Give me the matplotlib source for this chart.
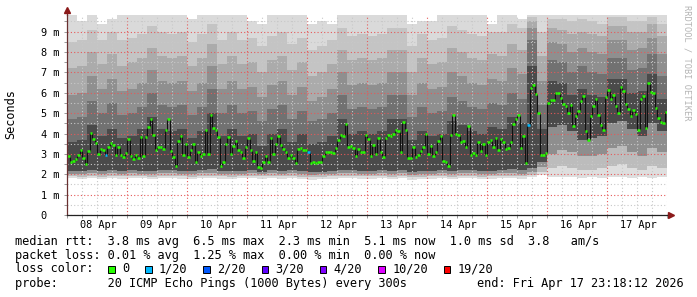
# -*- coding: utf-8 -*-
import numpy as np
import matplotlib
matplotlib.use('Agg')
import matplotlib.pyplot as plt
from matplotlib.patches import Rectangle

MONO = 'DejaVu Sans Mono'

# median rtt per hour (ms), 240 hourly steps
median_rtt = [
    2.9, 2.6, 2.65, 2.75, 2.95, 3.2, 2.8, 2.5, 3.15, 4.05, 3.75, 3.55, 3.0, 3.25, 3.2, 2.95,
    3.35, 3.55, 3.45, 2.95, 3.35, 2.95, 2.85, 3.05, 3.75, 2.9, 2.75, 2.95, 2.8, 3.85, 2.9, 3.85,
    4.3, 4.7, 3.95, 3.2, 3.35, 3.35, 3.25, 4.15,
    4.7, 3.15, 2.85, 2.4, 3.65, 3.9, 2.95, 3.5, 2.85, 3.2, 3.5, 2.6, 3.1, 2.9, 3.0, 4.15,
    3.0, 4.9, 4.25, 4.15, 3.85, 2.4, 2.6, 3.5, 3.85, 3.0, 3.4, 3.65, 3.2, 3.1, 2.8, 3.35,
    3.8, 3.2, 2.65, 3.1, 2.35, 2.3, 2.6, 2.9,
    2.6, 3.8, 3.0, 3.5, 3.9, 3.45, 3.25, 3.1, 2.8, 2.95, 2.8, 2.55, 3.25, 3.3, 3.2, 3.2,
    3.1, 2.55, 2.6, 2.55, 2.6, 2.6, 2.9, 3.1, 3.1, 3.1, 3.05, 3.3, 3.7, 3.95, 3.9, 4.45,
    3.35, 3.4, 3.3, 2.9, 3.25, 3.1, 3.1, 3.95,
    3.75, 2.9, 3.45, 3.0, 3.8, 3.1, 2.85, 3.8, 3.95, 3.9, 4.0, 4.15, 4.1, 3.1, 4.55, 4.15,
    2.8, 2.8, 3.35, 2.85, 2.95, 3.15, 3.35, 4.0, 3.0, 3.4, 2.9, 3.1, 3.65, 3.9, 2.65, 2.6,
    2.4, 3.95, 4.9, 4.0, 3.95, 3.6, 3.65, 3.35,
    4.35, 2.95, 3.05, 2.95, 3.6, 3.15, 3.5, 2.95, 3.6, 3.7, 3.35, 3.8, 3.2, 3.75, 3.6, 3.25,
    3.3, 3.6, 4.45, 4.7, 4.9, 3.3, 3.9, 2.55, 4.4, 6.25, 6.4, 5.95, 5.0, 2.95, 2.95, 3.05,
    5.5, 5.65, 5.65, 6.0, 6.0, 5.75, 5.45, 5.35,
    5.0, 5.4, 4.35, 4.85, 5.1, 5.6, 5.85, 4.1, 3.7, 4.85, 5.35, 5.7, 4.9, 4.4, 4.15, 5.8,
    6.15, 5.7, 5.9, 5.35, 5.0, 6.3, 6.1, 5.45, 5.2, 4.85, 5.15, 4.95, 4.15, 5.7, 5.85, 4.25,
    6.5, 6.05, 6.0, 5.25, 4.75, 4.55, 4.5, 5.05,
]
# hours with 1/20 packets lost
loss_1of20_steps = [15, 96, 184]

# smoke levels per 4-hour block (ms), from bottom to top
smoke_min = [
    1.80, 1.75, 1.80, 1.75, 1.80, 1.78, 1.80, 1.80, 1.75, 1.80,
    1.80, 1.78, 1.75, 1.80, 1.80, 1.78, 1.75, 1.80, 1.80, 1.78,
    1.80, 1.78, 1.80, 1.75, 1.72, 1.75, 1.78, 1.80, 1.80, 1.78,
    1.78, 1.80, 1.75, 1.80, 1.72, 1.75, 1.78, 1.80, 1.75, 1.80,
    1.80, 1.75, 1.78, 1.80, 1.80, 1.78, 1.85, 1.95, 1.85, 1.85,
    1.85, 1.80, 1.85, 1.80, 1.85, 1.85, 1.80, 1.85, 1.80, 1.85,
]
smoke_la = [
    1.90, 1.88, 1.92, 1.88, 1.90, 1.90, 1.92, 1.90, 1.88, 1.92,
    1.90, 1.90, 1.88, 1.92, 1.92, 1.90, 1.88, 1.90, 1.92, 1.90,
    1.92, 1.90, 1.92, 1.88, 1.85, 1.88, 1.90, 1.92, 1.92, 1.90,
    1.90, 1.92, 1.88, 1.92, 1.85, 1.88, 1.90, 1.92, 1.88, 1.92,
    1.92, 1.88, 1.90, 1.92, 1.92, 1.90, 1.95, 2.10, 2.30, 2.40,
    2.30, 2.20, 2.20, 2.30, 2.40, 2.50, 2.30, 2.20, 2.40, 2.30,
]
smoke_lb = [
    2.02, 2.00, 2.05, 2.00, 2.04, 2.02, 2.04, 2.02, 2.00, 2.05,
    2.04, 2.02, 2.00, 2.05, 2.06, 2.02, 2.00, 2.02, 2.04, 2.00,
    2.04, 2.02, 2.04, 2.00, 1.98, 2.00, 2.02, 2.05, 2.04, 2.02,
    2.02, 2.04, 2.00, 2.05, 1.98, 2.00, 2.02, 2.04, 2.00, 2.05,
    2.05, 2.00, 2.02, 2.04, 2.05, 2.02, 2.10, 2.35, 3.00, 3.20,
    3.10, 2.90, 2.90, 3.00, 3.30, 3.40, 3.10, 2.90, 3.30, 3.10,
]
smoke_dlo = [
    2.18, 2.15, 2.22, 2.15, 2.20, 2.18, 2.20, 2.18, 2.15, 2.22,
    2.20, 2.18, 2.15, 2.22, 2.25, 2.18, 2.15, 2.18, 2.20, 2.12,
    2.20, 2.18, 2.20, 2.15, 2.10, 2.12, 2.18, 2.22, 2.20, 2.18,
    2.18, 2.20, 2.18, 2.22, 2.10, 2.15, 2.18, 2.20, 2.15, 2.22,
    2.22, 2.15, 2.18, 2.20, 2.25, 2.20, 2.30, 2.60, 4.30, 4.40,
    4.10, 3.70, 3.80, 3.90, 4.50, 4.60, 4.20, 3.90, 4.50, 4.10,
]
smoke_dhi = [
    3.6, 3.7, 4.4, 3.9, 4.2, 3.8, 3.9, 4.2, 4.8, 4.2,
    4.1, 4.2, 3.8, 4.1, 5.0, 3.9, 4.2, 3.9, 4.0, 3.4,
    4.0, 4.2, 3.6, 4.0, 3.5, 3.6, 3.9, 4.7, 4.0, 4.1,
    4.0, 4.1, 4.7, 4.7, 3.7, 4.1, 3.9, 4.0, 4.6, 4.4,
    4.1, 4.0, 4.3, 4.2, 4.8, 4.5, 7.3, 4.2, 6.6, 6.5,
    5.9, 6.2, 5.9, 5.8, 6.7, 6.7, 6.0, 6.1, 6.9, 5.7,
]
smoke_ua = [
    4.7, 4.8, 5.6, 5.0, 5.5, 4.9, 5.0, 5.3, 6.0, 5.4,
    5.3, 5.4, 4.9, 5.3, 6.2, 5.0, 5.4, 5.0, 5.1, 4.6,
    5.2, 5.4, 4.7, 5.1, 4.6, 4.7, 5.0, 5.9, 5.2, 5.3,
    5.2, 5.3, 5.9, 5.9, 4.8, 5.3, 5.0, 5.1, 5.8, 5.6,
    5.3, 5.2, 5.5, 5.4, 6.0, 5.7, 8.6, 5.4, 7.6, 7.5,
    7.0, 7.3, 7.0, 6.9, 7.7, 7.7, 7.1, 7.2, 7.9, 6.8,
]
smoke_ub = [
    5.9, 6.0, 6.8, 6.2, 6.7, 6.1, 6.2, 6.5, 7.1, 6.6,
    6.5, 6.6, 6.1, 6.5, 7.3, 6.2, 6.6, 6.2, 6.3, 5.8,
    6.4, 6.6, 5.9, 6.3, 5.6, 5.8, 6.2, 7.0, 6.4, 6.5,
    6.4, 6.5, 7.0, 7.0, 5.9, 6.5, 6.2, 6.3, 7.0, 6.8,
    6.5, 6.4, 6.7, 6.6, 7.2, 6.9, 9.2, 6.6, 8.5, 8.4,
    8.0, 8.2, 8.0, 7.9, 8.6, 8.6, 8.1, 8.2, 8.7, 7.9,
]
smoke_uc = [
    7.2, 7.3, 8.0, 7.4, 7.9, 7.3, 7.5, 7.7, 8.2, 7.8,
    7.7, 7.8, 7.3, 7.7, 8.4, 7.4, 7.8, 7.4, 7.5, 7.0,
    7.6, 7.8, 7.1, 7.5, 6.8, 7.0, 7.4, 8.1, 7.6, 7.7,
    7.6, 7.7, 8.1, 8.1, 7.0, 7.7, 7.4, 7.5, 8.2, 8.0,
    7.7, 7.6, 7.9, 7.8, 8.4, 8.1, 9.5, 7.8, 9.2, 9.1,
    8.9, 9.0, 8.9, 8.8, 9.3, 9.3, 9.0, 9.0, 9.4, 8.8,
]
smoke_ud = [
    8.5, 8.6, 9.1, 8.6, 9.0, 8.6, 8.7, 8.9, 9.3, 9.0,
    8.9, 9.0, 8.5, 8.9, 9.4, 8.6, 9.0, 8.6, 8.7, 8.3,
    8.8, 9.0, 8.4, 8.7, 8.1, 8.3, 8.6, 9.2, 8.8, 8.9,
    8.8, 8.9, 9.2, 9.2, 8.3, 8.9, 8.6, 8.7, 9.3, 9.1,
    8.9, 8.8, 9.0, 9.0, 9.4, 9.2, 9.7, 9.0, 9.6, 9.6,
    9.5, 9.6, 9.5, 9.4, 9.7, 9.7, 9.5, 9.5, 9.7, 9.4,
]
smoke_max = [
    9.9, 9.5, 9.9, 9.4, 9.6, 9.9, 9.9, 9.9, 9.9, 9.9,
    9.9, 9.9, 9.6, 9.9, 9.9, 9.9, 9.9, 9.9, 9.5, 9.4,
    9.9, 9.9, 9.9, 9.9, 9.4, 9.5, 9.4, 9.9, 9.9, 9.9,
    9.9, 9.9, 9.9, 9.9, 9.4, 9.5, 9.5, 9.9, 9.9, 9.9,
    9.9, 9.9, 9.4, 9.9, 9.9, 9.6, 9.9, 9.9, 9.9, 9.9,
    9.9, 9.9, 9.9, 9.9, 9.9, 9.9, 9.9, 9.9, 9.9, 9.9,
]

day_labels = ['08 Apr', '09 Apr', '10 Apr', '11 Apr', '12 Apr',
              '13 Apr', '14 Apr', '15 Apr', '16 Apr', '17 Apr']
y_labels = ['0  ', '1 m', '2 m', '3 m', '4 m', '5 m', '6 m', '7 m', '8 m', '9 m']

loss_labels = ['0', '1/20', '2/20', '3/20', '4/20', '10/20', '19/20']
loss_colors = ['#26ff00', '#00b8ff', '#0059ff', '#5e00ff', '#7e00ff', '#dd00ff', '#ff0000']

legend_lines = [
    'median rtt:  3.8 ms avg  6.5 ms max  2.3 ms min  5.1 ms now  1.0 ms sd  3.8   am/s',
    'packet loss: 0.01 % avg  1.25 % max  0.00 % min  0.00 % now',
    'loss color:',
    'probe:       20 ICMP Echo Pings (1000 Bytes) every 300s',
]
end_text = 'end: Fri Apr 17 23:18:12 2026'

W, H = 697, 297


def fx(px):
    return px / W


def fy(py):
    return 1 - py / H


def draw_smoke(ax):
    levels = [smoke_min, smoke_la, smoke_lb, smoke_dlo, smoke_dhi,
              smoke_ua, smoke_ub, smoke_uc, smoke_ud, smoke_max]
    shades = ['#dedede', '#bcbcbc', '#8e8e8e', '#4a4a4a',
              '#717171', '#8f8f8f', '#ababab', '#c4c4c4', '#dadada']
    edges = np.arange(len(smoke_min) + 1) * 4
    for lo, hi, c in zip(levels[:-1], levels[1:], shades):
        lo = list(lo) + [lo[-1]]
        hi = list(hi) + [hi[-1]]
        ax.fill_between(edges, lo, hi, step='post', color=c,
                        linewidth=0, antialiased=False, zorder=1)


def draw_median(ax):
    n = len(median_rtt)
    steps = np.arange(n)
    colors = [loss_colors[1] if i in loss_1of20_steps else loss_colors[0] for i in steps]
    # black step connectors
    ax.vlines(steps[1:], median_rtt[:-1], median_rtt[1:], color='#111111',
              linewidth=0.8, zorder=4)
    ax.hlines(median_rtt, steps, steps + 1, colors=colors, linewidth=1.8, zorder=5)


def main():
    fig = plt.figure(figsize=(W / 100, H / 100), dpi=100)
    fig.patch.set_facecolor('white')
    ax = fig.add_axes([fx(67), fy(215), 600 / W, 200 / H])
    ax.set_xlim(0, 240)
    ax.set_ylim(0, 200 / 20.37)

    draw_smoke(ax)
    draw_median(ax)

    # grid
    ax.set_axisbelow(False)
    ax.set_xticks(np.arange(24, 240, 24))
    ax.set_xticks(np.arange(0, 241, 6), minor=True)
    ax.set_yticks(np.arange(0, 10))
    ax.set_yticks(np.arange(0.5, 10, 1.0), minor=True)
    ax.grid(which='major', color=(0.9, 0.35, 0.35, 0.4), linestyle=(0, (1, 2)), linewidth=0.8)
    ax.grid(which='minor', color='#c8c8c8', linestyle=(0, (1, 2)), linewidth=0.8)
    ax.set_xticklabels([])
    ax.set_yticklabels(y_labels, fontfamily=MONO, fontsize=7.4)
    ax.tick_params(which='both', length=2.5, width=0.7, color='#999999')
    ax.tick_params(axis='y', which='major', pad=3)

    for s in ['top', 'right']:
        ax.spines[s].set_visible(False)
    ax.spines['left'].set_color('#6a3030')
    ax.spines['bottom'].set_color('#222222')
    for s in ['left', 'bottom']:
        ax.spines[s].set_linewidth(0.9)
        ax.spines[s].set_zorder(6)

    # axis extensions and arrows
    ax.plot([0, 0], [1, 1.025], transform=ax.transAxes, color='#6a3030',
            linewidth=0.9, clip_on=False)
    ax.plot([1, 1.006], [0, 0], transform=ax.transAxes, color='#222222',
            linewidth=0.9, clip_on=False)
    ax.plot([0], [1.027], marker='^', markersize=4, color='#8b1a1a',
            transform=ax.transAxes, clip_on=False)
    ax.plot([1.007], [0], marker='>', markersize=4, color='#8b1a1a',
            transform=ax.transAxes, clip_on=False)

    # day labels at noon
    for k, lab in enumerate(day_labels):
        ax.text(12.4 + 24 * k, -(224.5 - 215) / 200, lab, transform=ax.get_xaxis_transform(),
                ha='center', va='center', fontfamily=MONO, fontsize=7.4)

    fig.text(fx(11), fy(114), 'Seconds', rotation=90, ha='center', va='center',
             fontfamily=MONO, fontsize=8.6)
    fig.text(fx(687), fy(5), 'RRDTOOL / TOBI OETIKER', rotation=270, ha='center',
             va='top', fontfamily=MONO, fontsize=6.2, color='#b4b4b4')

    # legend text block
    line_y = [241, 255, 269, 283]
    for txt, y in zip(legend_lines, line_y):
        fig.text(fx(15), fy(y), txt, ha='left', va='center', fontfamily=MONO, fontsize=8.6)
    fig.text(fx(477), fy(283), end_text, ha='left', va='center', fontfamily=MONO, fontsize=8.6)

    x = 108.3
    for lab, c in zip(loss_labels, loss_colors):
        fig.add_artist(Rectangle((fx(x), fy(272.5)), 6.5 / W, 7 / H,
                                 transform=fig.transFigure, facecolor=c,
                                 edgecolor='black', linewidth=0.7))
        fig.text(fx(x + 14), fy(269), lab, ha='left', va='center',
                 fontfamily=MONO, fontsize=8.6)
        x += 29.5 + 7.2 * len(lab)

    fig.savefig('out.png', dpi=100)
    plt.close(fig)


if __name__ == '__main__':
    main()
